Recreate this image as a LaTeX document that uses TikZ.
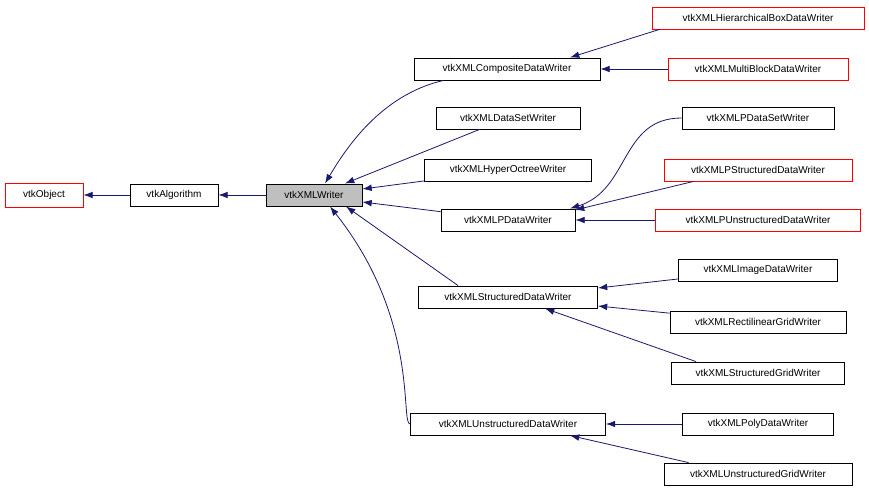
\documentclass[tikz,border=0pt]{standalone}
\usepackage{fontspec}
\setmainfont{Liberation Sans}
\usetikzlibrary{arrows.meta}
\begin{document}
\begin{tikzpicture}[x=0.75pt,y=-0.75pt,
 box/.style={draw=black,fill=white,minimum height=16.5pt,minimum width=#1*0.75pt,inner sep=1pt,font=\fontsize{7.5}{9}\selectfont,line width=0.6pt},
 rbox/.style={box=#1,draw=red},
 edge/.style={draw={rgb,255:red,25;green,25;blue,112},line width=0.6pt,-{Latex[length=7pt,width=5pt]}}]
\useasboundingbox (0,0) rectangle (869,493);
\node[rbox=78,minimum height=18pt] (obj) at (44,195) {vtkObject};
\node[box=88] (alg) at (174,195) {vtkAlgorithm};
\node[box=96,fill={rgb,255:red,191;green,191;blue,191}] (w) at (314,195) {vtkXMLWriter};
\node[box=186] (comp) at (507,69) {vtkXMLCompositeDataWriter};
\node[box=144] (ds) at (508,118) {vtkXMLDataSetWriter};
\node[box=167] (ho) at (508,170) {vtkXMLHyperOctreeWriter};
\node[box=134] (pd) at (508,220) {vtkXMLPDataWriter};
\node[box=179] (sd) at (508,297) {vtkXMLStructuredDataWriter};
\node[box=195] (ud) at (508,424) {vtkXMLUnstructuredDataWriter};
\node[rbox=212] (hb) at (758,18) {vtkXMLHierarchicalBoxDataWriter};
\node[rbox=180] (mb) at (758,69) {vtkXMLMultiBlockDataWriter};
\node[box=152] (pds) at (758,118) {vtkXMLPDataSetWriter};
\node[rbox=188] (psd) at (758,170) {vtkXMLPStructuredDataWriter};
\node[rbox=205] (pud) at (758,220) {vtkXMLPUnstructuredDataWriter};
\node[box=159] (img) at (758,270) {vtkXMLImageDataWriter};
\node[box=176] (rg) at (758,322) {vtkXMLRectilinearGridWriter};
\node[box=173] (sg) at (758,373) {vtkXMLStructuredGridWriter};
\node[box=151] (poly) at (758,424) {vtkXMLPolyDataWriter};
\node[box=188] (ug) at (758,474) {vtkXMLUnstructuredGridWriter};
\path[edge] (alg) -- (obj);
\path[edge] (w) -- (alg);
\path[edge] (comp.south west) ++(30,0) .. controls (380,95) and (345,150) .. (325,183.5);
\path[edge] (ds) -- (345,183.5);
\path[edge] (ho) -- (w.east |- 0,189);
\path[edge] (pd) -- (w.east |- 0,202);
\path[edge] (sd.north west) ++(40,0) -- (346,206.5);
\path[edge] (ud.west) .. controls (400,424) and (420,320) .. (330,206.5);
\path[edge] (hb.south west) ++(8,0) -- (570,57.5);
\path[edge] (mb) -- (comp);
\path[edge] (pds.west) .. controls (620,118) and (630,190) .. (570,208.5);
\path[edge] (psd.south west) ++(30,0) -- (575,210);
\path[edge] (pud) -- (pd);
\path[edge] (img) -- (sd.east |- 0,288);
\path[edge] (rg) -- (sd.east |- 0,306);
\path[edge] (sg.north west) ++(25,0) -- (545,308.5);
\path[edge] (poly) -- (ud);
\path[edge] (ug.north west) ++(25,0) -- (570,435.5);
\end{tikzpicture}
\end{document}
